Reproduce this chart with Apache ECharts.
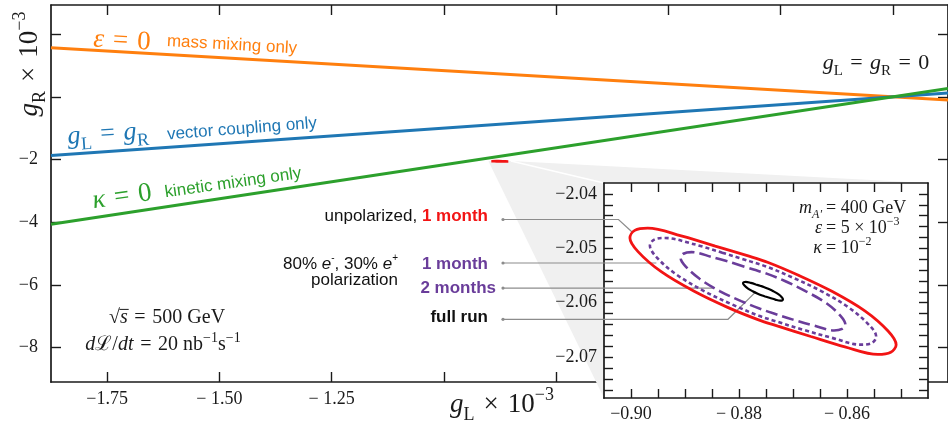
<!DOCTYPE html>
<html>
<head>
<meta charset="utf-8">
<script src="https://cdn.jsdelivr.net/npm/echarts@6.0.0/dist/echarts.min.js"></script>
<style>
html,body{margin:0;padding:0;background:#fff;}
#chart{width:948px;height:423px;}
</style>
</head>
<body>
<div id="chart"></div>
<script>
// ---------------- data ----------------
const mainXTicks = [-1.75, -1.5, -1.25, -1, -0.75, -0.5, -0.25, 0];
const mainXTickLabels = [-1.75, -1.5, -1.25];
const mainYTicks = [-8, -6, -4, -2, 0, 2];
const mainYTickLabels = [-8, -6, -4, -2];

// g_L values at the two ends of the straight lines, and the matching g_R values
const lineGL = [-1.875, 0.1225];
const epsZeroGR = [1.564, -0.102];     // epsilon = 0, mass mixing only
const vectorGR = [-1.875, 0.1225];     // g_L = g_R, vector coupling only
const kappaZeroGR = [-4.063, 0.265];   // kappa = 0, kinetic mixing only

const insetXTicks = [-0.9, -0.895, -0.89, -0.885, -0.88, -0.875, -0.87, -0.865, -0.86, -0.855, -0.85];
const insetXTickLabels = [-0.9, -0.88, -0.86];
const insetYTicks = [-2.076, -2.074, -2.072, -2.07, -2.068, -2.066, -2.064, -2.062, -2.06, -2.058,
                     -2.056, -2.054, -2.052, -2.05, -2.048, -2.046, -2.044, -2.042, -2.04];
const insetYTickLabels = [-2.07, -2.06, -2.05, -2.04];

// contours [g_L, g_R] (x 10^-3)
const unpol1Month = [[-0.8844,-2.0496],[-0.8783,-2.0514],[-0.8746,-2.0526],[-0.8691,-2.0549],[-0.8628,-2.0579],
  [-0.8567,-2.0615],[-0.8524,-2.0652],[-0.8509,-2.0677],[-0.8519,-2.0691],[-0.8543,-2.0695],[-0.8604,-2.0681],
  [-0.8667,-2.0662],[-0.8728,-2.0643],[-0.8765,-2.0631],[-0.8820,-2.0609],[-0.8883,-2.0579],[-0.8944,-2.0543],
  [-0.8987,-2.0506],[-0.9002,-2.0481],[-0.8993,-2.0467],[-0.8969,-2.0463],[-0.8907,-2.0477],[-0.8844,-2.0496]];
const pol1Month = [[-0.8831,-2.0508],[-0.8779,-2.0524],[-0.8748,-2.0534],[-0.8700,-2.0554],[-0.8647,-2.0579],
  [-0.8595,-2.0610],[-0.8559,-2.0641],[-0.8546,-2.0662],[-0.8554,-2.0674],[-0.8575,-2.0677],[-0.8626,-2.0665],
  [-0.8680,-2.0650],[-0.8732,-2.0634],[-0.8763,-2.0624],[-0.8811,-2.0604],[-0.8864,-2.0579],[-0.8916,-2.0548],
  [-0.8952,-2.0517],[-0.8965,-2.0495],[-0.8957,-2.0484],[-0.8937,-2.0481],[-0.8885,-2.0492],[-0.8831,-2.0508]];
const pol2Months = [[-0.8811,-2.0527],[-0.8773,-2.0539],[-0.8750,-2.0546],[-0.8715,-2.0560],[-0.8676,-2.0579],
  [-0.8638,-2.0601],[-0.8612,-2.0624],[-0.8603,-2.0640],[-0.8609,-2.0648],[-0.8624,-2.0651],[-0.8661,-2.0642],
  [-0.8700,-2.0631],[-0.8738,-2.0619],[-0.8761,-2.0611],[-0.8796,-2.0597],[-0.8835,-2.0579],[-0.8873,-2.0556],
  [-0.8899,-2.0533],[-0.8908,-2.0518],[-0.8903,-2.0510],[-0.8888,-2.0507],[-0.8850,-2.0516],[-0.8811,-2.0527]];
const fullRun = [[-0.87689,-2.05664],[-0.87597,-2.05692],[-0.87542,-2.05710],[-0.87458,-2.05744],[-0.87364,-2.05789],
  [-0.87272,-2.05843],[-0.87208,-2.05899],[-0.87186,-2.05936],[-0.87200,-2.05957],[-0.87236,-2.05962],[-0.87328,-2.05942],
  [-0.87422,-2.05914],[-0.87514,-2.05886],[-0.87570,-2.05868],[-0.87653,-2.05834],[-0.87747,-2.05789],[-0.87839,-2.05735],
  [-0.87903,-2.05679],[-0.87925,-2.05642],[-0.87911,-2.05621],[-0.87875,-2.05616],[-0.87783,-2.05636],[-0.87689,-2.05664]];

// ---------------- styling ----------------
const SERIF = '"Liberation Serif", "DejaVu Serif", serif';
const SANS = '"Liberation Sans", Arial, sans-serif';
const AX = '#1a1a1a';
const ORANGE = '#ff7f0e', BLUE = '#1f77b4', GREEN = '#2ca02c', RED = '#f21414', PURPLE = '#6a3d9a', GREY = '#8c8c8c';
const SP = '\u2004';

const mainRange = {xmin: -1.875, xmax: 0.1225, ymin: -9.1, ymax: 2.93};
const insetRange = {xmin: -0.905, xmax: -0.845, ymin: -2.0775, ymax: -2.038};

function fmtMainX(v) { const s = Math.abs(v).toFixed(2); return v <= -1.7 ? '\u2212' + s : '\u2212 ' + s; }
function fmtMainY(v) { return '\u2212' + Math.abs(v); }
function fmtInsetX(v) { const s = Math.abs(v).toFixed(2); return v <= -0.895 ? '\u2212' + s : '\u2212 ' + s; }
function fmtInsetY(v) { return '\u2212' + Math.abs(v).toFixed(2); }

function valueAxis(o) {
  return {
    type: 'value', gridIndex: o.grid, min: o.min, max: o.max, position: o.pos, z: o.z || 0,
    axisLine: {show: true, onZero: false, lineStyle: {color: AX, width: 1.7}},
    axisTick: {show: true, inside: true, length: o.tickLen, customValues: o.ticks, lineStyle: {color: AX, width: 1.4}},
    axisLabel: o.labels ? {show: true, customValues: o.labels, formatter: o.fmt, margin: o.margin,
      color: '#1a1a1a', fontFamily: SERIF, fontSize: 18} : {show: false},
    splitLine: {show: false}
  };
}

function mathRich(S, color) {
  const L = Math.round(S * 1.4);
  const sm = Math.round(S * 0.68);
  return {
    i: {font: `italic ${S}px ${SERIF}`, fill: color, lineHeight: L},
    r: {font: `${S}px ${SERIF}`, fill: color, lineHeight: L},
    sb: {font: `${sm}px ${SERIF}`, fill: color, lineHeight: L - Math.round(0.4 * S), verticalAlign: 'bottom'},
    sbi: {font: `italic ${sm}px ${SERIF}`, fill: color, lineHeight: L - Math.round(0.4 * S), verticalAlign: 'bottom'},
    sp: {font: `${sm}px ${SERIF}`, fill: color, lineHeight: L - Math.round(0.85 * S), verticalAlign: 'top'}
  };
}
function sansRich(S, color) {
  const L = Math.round(S * 1.3);
  return {
    n: {font: `${S}px ${SANS}`, fill: color, lineHeight: L},
    b: {font: `bold ${S}px ${SANS}`, fill: color, lineHeight: L},
    br: {font: `bold ${S}px ${SANS}`, fill: RED, lineHeight: L},
    ie: {font: `italic ${S}px ${SANS}`, fill: color, lineHeight: L},
    sp: {font: `${Math.round(S * 0.6)}px ${SANS}`, fill: color, lineHeight: Math.round(S * 0.5), verticalAlign: 'top'}
  };
}
function txt(x, y, text, rich, opt) {
  opt = opt || {};
  return {type: 'text', x: x, y: y, z: 30, silent: true, rotation: (opt.rot || 0) * Math.PI / 180,
    style: {text: text, rich: rich, align: opt.align || 'center', verticalAlign: 'middle',
      fill: opt.fill || '#111', font: opt.font || `18px ${SERIF}`}};
}

const chart = echarts.init(document.getElementById('chart'), null, {renderer: 'canvas'});

const pairs = (xs, ys) => xs.map((x, i) => [x, ys[i]]);

chart.setOption({
  animation: false,
  backgroundColor: '#fff',
  grid: [
    {left: 51, top: 5, width: 902, height: 377, show: false},
    {left: 604, top: 183, width: 324, height: 216, show: true, backgroundColor: '#fff', borderWidth: 0, z: 5}
  ],
  xAxis: [
    valueAxis({grid: 0, min: mainRange.xmin, max: mainRange.xmax, pos: 'bottom', tickLen: 10, ticks: mainXTicks, labels: mainXTickLabels, fmt: fmtMainX, margin: 8}),
    valueAxis({grid: 0, min: mainRange.xmin, max: mainRange.xmax, pos: 'top', tickLen: 10, ticks: mainXTicks}),
    valueAxis({grid: 1, min: insetRange.xmin, max: insetRange.xmax, pos: 'bottom', tickLen: 9, ticks: insetXTicks, labels: insetXTickLabels, fmt: fmtInsetX, margin: 7, z: 6}),
    valueAxis({grid: 1, min: insetRange.xmin, max: insetRange.xmax, pos: 'top', tickLen: 9, ticks: insetXTicks, z: 6})
  ],
  yAxis: [
    valueAxis({grid: 0, min: mainRange.ymin, max: mainRange.ymax, pos: 'left', tickLen: 10, ticks: mainYTicks, labels: mainYTickLabels, fmt: fmtMainY, margin: 13}),
    valueAxis({grid: 0, min: mainRange.ymin, max: mainRange.ymax, pos: 'right', tickLen: 10, ticks: mainYTicks}),
    valueAxis({grid: 1, min: insetRange.ymin, max: insetRange.ymax, pos: 'left', tickLen: 9, ticks: insetYTicks, labels: insetYTickLabels, fmt: fmtInsetY, margin: 7, z: 6}),
    valueAxis({grid: 1, min: insetRange.ymin, max: insetRange.ymax, pos: 'right', tickLen: 9, ticks: insetYTicks, z: 6})
  ],
  series: [
    {type: 'line', name: 'eps0', xAxisIndex: 0, yAxisIndex: 0, data: pairs(lineGL, epsZeroGR), showSymbol: false, silent: true, z: 2,
      lineStyle: {color: ORANGE, width: 3}},
    {type: 'line', name: 'vector', xAxisIndex: 0, yAxisIndex: 0, data: pairs(lineGL, vectorGR), showSymbol: false, silent: true, z: 2,
      lineStyle: {color: BLUE, width: 3}},
    {type: 'line', name: 'kappa0', xAxisIndex: 0, yAxisIndex: 0, data: pairs(lineGL, kappaZeroGR), showSymbol: false, silent: true, z: 2,
      lineStyle: {color: GREEN, width: 3}},
    {type: 'line', name: 'unpolMain', xAxisIndex: 0, yAxisIndex: 0, data: unpol1Month, showSymbol: false, silent: true, z: 4,
      lineStyle: {color: RED, width: 2.5}},
    {type: 'line', name: 'unpol1', xAxisIndex: 2, yAxisIndex: 2, data: unpol1Month, smooth: 0.35, showSymbol: false, silent: true, z: 7,
      lineStyle: {color: RED, width: 2.8}},
    {type: 'line', name: 'pol1', xAxisIndex: 2, yAxisIndex: 2, data: pol1Month, smooth: 0.35, showSymbol: false, silent: true, z: 7,
      lineStyle: {color: PURPLE, width: 2.6, type: [4, 3]}},
    {type: 'line', name: 'pol2', xAxisIndex: 2, yAxisIndex: 2, data: pol2Months, smooth: 0.35, showSymbol: false, silent: true, z: 7,
      lineStyle: {color: PURPLE, width: 2.6, type: [12, 5]}},
    {type: 'line', name: 'full', xAxisIndex: 2, yAxisIndex: 2, data: fullRun, smooth: 0.35, showSymbol: false, silent: true, z: 7,
      lineStyle: {color: '#000', width: 2.2}}
  ]
});

// ---------------- decorations (zoom cone, leaders, text) ----------------
const PM = pt => chart.convertToPixel({xAxisIndex: 0, yAxisIndex: 0}, pt);
const PI_ = pt => chart.convertToPixel({xAxisIndex: 2, yAxisIndex: 2}, pt);
const ex = unpol1Month.map(p => p[0]), ey = unpol1Month.map(p => p[1]);
const bx0 = Math.min(...ex), bx1 = Math.max(...ex), by0 = Math.min(...ey), by1 = Math.max(...ey);
const pTL = PM([bx0, by1]), pTR = PM([bx1, by1]), pBL = PM([bx0, by0]);
const iTL = PI_([insetRange.xmin, insetRange.ymax]), iTR = PI_([insetRange.xmax, insetRange.ymax]);
const iBR = PI_([insetRange.xmax, insetRange.ymin]), iBL = PI_([insetRange.xmin, insetRange.ymin]);

const LX = 503;
const tUnpol = PI_([-0.8998, -2.0470]);
const tPol1 = PI_([-0.8953, -2.0527]);
const tPol2 = PI_([-0.8847, -2.0573]);
const tFull = PI_([-0.8769, -2.0580]);
const leaderY = {unpol: 219.5, pol1: tPol1[1], pol2: tPol2[1], full: 319.3};

function leader(points) {
  return {type: 'polyline', z: 6.5, silent: true, shape: {points: points}, style: {stroke: GREY, lineWidth: 1.2, fill: null}};
}
function dot(x, y) {
  return {type: 'circle', z: 6.5, silent: true, shape: {cx: x, cy: y, r: 1.6}, style: {fill: GREY}};
}

// text measuring (for the square-root bar)
const mctx = document.createElement('canvas').getContext('2d');
function tw(font, s) { mctx.font = font; return mctx.measureText(s).width; }

const mr27o = mathRich(27, ORANGE), mr26b = mathRich(26, BLUE), mr27g = mathRich(27, GREEN);
const mrK = mathRich(22, '#1a1a1a'), mr20 = mathRich(20, '#1a1a1a'), mr18 = mathRich(18, '#1a1a1a'), mr27 = mathRich(27, '#1a1a1a');
const sr17 = sansRich(17, '#111'), sr17o = sansRich(17, ORANGE), sr17b = sansRich(17, BLUE), sr17g = sansRich(17, GREEN), sr17p = sansRich(17, PURPLE);

// sqrt(s) overline position
const SQ = 20, sqCX = 167, sqCY = 318;
const wRoot = tw(`${SQ}px ${SERIF}`, '√'), wS = tw(`italic ${SQ}px ${SERIF}`, 's'), wRest = tw(`${SQ}px ${SERIF}`, `${SP}=${SP}500 GeV`);
const sqX0 = sqCX - (wRoot + wS + wRest) / 2 + wRoot;

const graphics = [
  {type: 'polygon', z: 3, silent: true, shape: {points: [pTL, pTR, iTR, iBR, iBL, pBL]}, style: {fill: '#f0f0f0', stroke: null}},
  {type: 'line', z: 3.5, silent: true, shape: {x1: pTR[0], y1: pTR[1], x2: iTL[0], y2: iTL[1]}, style: {stroke: '#fff', lineWidth: 1.5}},
  leader([[LX, leaderY.unpol], [618.5, leaderY.unpol], tUnpol]), dot(LX, leaderY.unpol),
  leader([[LX, leaderY.pol1], tPol1]), dot(LX, leaderY.pol1),
  leader([[LX, leaderY.pol2], tPol2]), dot(LX, leaderY.pol2),
  leader([[LX, leaderY.full], [728, leaderY.full], tFull]), dot(LX, leaderY.full),

  // line annotations
  txt(122, 41, `{i|ε}{r|${SP}=${SP}0}`, mr27o, {rot: -3}),
  txt(232, 45, '{n|mass mixing only}', sr17o, {rot: -3.2}),
  txt(108, 134, `{i|g}{sb|L}{r|${SP}=${SP}}{i|g}{sb|R}`, mr26b, {rot: 4}),
  txt(242, 129, '{n|vector coupling only}', sr17b, {rot: 4.4}),
  txt(122, 197, `{i|κ}{r|${SP}=${SP}0}`, mr27g, {rot: 8}),
  txt(233, 183, '{n|kinetic mixing only}', sr17g, {rot: 8.1}),
  txt(876, 63, `{i|g}{sb|L}{r|${SP}=${SP}}{i|g}{sb|R}{r|${SP}=${SP}0}`, mrK),

  // collider parameters
  txt(sqCX, sqCY, `{r|√}{i|s}{r|${SP}=${SP}500 GeV}`, mr20),
  {type: 'line', z: 30, silent: true, shape: {x1: sqX0 - 0.5, y1: sqCY - 8.6, x2: sqX0 + wS + 1, y2: sqCY - 8.6}, style: {stroke: '#1a1a1a', lineWidth: 1}},
  txt(163, 345, `{i|d}{r|ℒ/}{i|dt}{r|${SP}=${SP}20 nb}{sp|−1}{r|s}{sp|−1}`, mr20),

  // axis titles
  txt(502, 405, `{i|g}{sb|L}{r|${SP}×${SP}10}{sp|−3}`, mr27),
  txt(30, 64, `{i|g}{sb|R}{r|${SP}×${SP}10}{sp|−3}`, mr27, {rot: 90}),

  // inset parameters
  txt(822, 208, '{i|m}{sbi|A′}', mr18, {align: 'right'}),
  txt(826, 208, '{r|= 400 GeV}', mr18, {align: 'left'}),
  txt(822, 228, '{i|ε}', mr18, {align: 'right'}),
  txt(826, 228, '{r|= 5 × 10}{sp|−3}', mr18, {align: 'left'}),
  txt(822, 248, '{i|κ}', mr18, {align: 'right'}),
  txt(826, 248, '{r|= 10}{sp|−2}', mr18, {align: 'left'}),

  // contour labels
  txt(488, 216.5, '{n|unpolarized, }{br|1 month}', sr17, {align: 'right'}),
  txt(398, 264, '{n|80% }{ie|e}{sp|-}{n|, 30% }{ie|e}{sp|+}', sr17, {align: 'right'}),
  txt(398, 280, '{n|polarization}', sr17, {align: 'right'}),
  txt(488, 264, '{b|1 month}', sr17p, {align: 'right'}),
  txt(496, 288.5, '{b|2 months}', sr17p, {align: 'right'}),
  txt(488, 317.5, '{b|full run}', sr17, {align: 'right'})
];

chart.setOption({graphic: {elements: graphics}});
</script>
</body>
</html>
